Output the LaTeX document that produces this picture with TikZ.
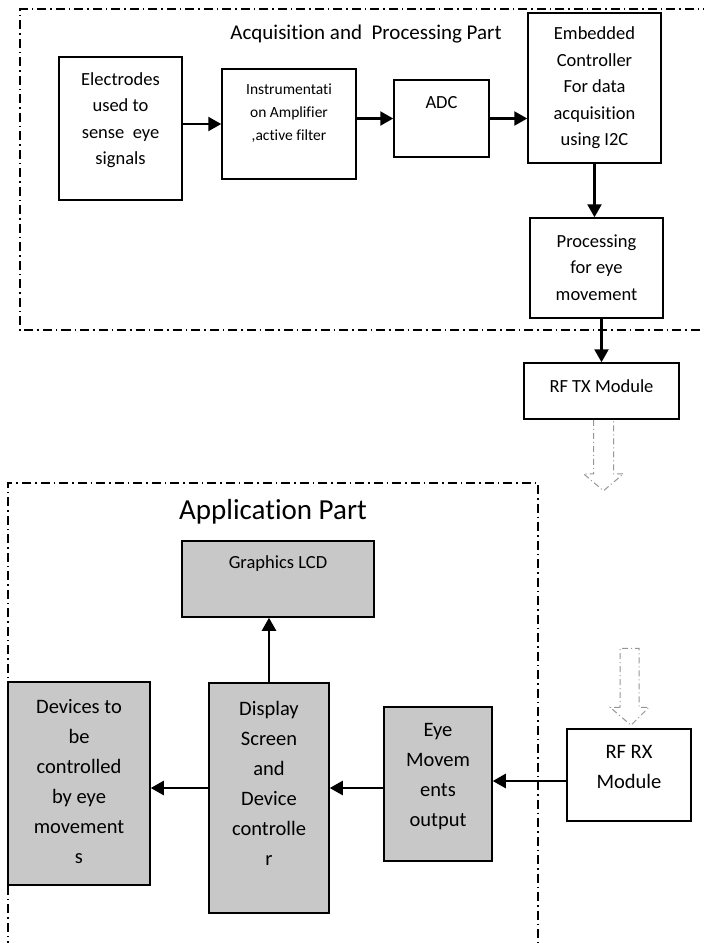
\documentclass[tikz,border=0pt]{standalone}
\usepackage{fontspec}
\setmainfont{Carlito}[Ligatures=NoCommon]
\usetikzlibrary{positioning, calc, arrows.meta}
\definecolor{boxgrey}{RGB}{200,200,200}
\definecolor{linkgrey}{RGB}{150,150,150}

\begin{document}
\begin{tikzpicture}[x=1pt, y=-1pt,
    blk/.style={draw, line width=1.5pt, inner sep=0pt},
    gblk/.style={blk, fill=boxgrey},
    txt/.style={align=center, inner sep=0pt, font=\fontsize{18.5}{26.5}\selectfont},
    btxt/.style={align=center, inner sep=0pt, font=\fontsize{20.5}{30}\selectfont},
    arr/.style={line width=2.4pt, -{Triangle[length=13pt, width=14pt]}},
    frame/.style={line width=1.2pt, dash pattern=on 9pt off 4pt on 1.5pt off 4pt},
    radio/.style={draw=linkgrey, line width=1pt, dash pattern=on 6pt off 3pt on 1pt off 3pt}]

        \useasboundingbox (0,0) rectangle (704,943);

        % Dash-dot frames
        \draw[frame] (712,9) -- (20,9) -- (20,330) -- (712,330);
        \draw[frame] (8,950) -- (8,483) -- (538,483) -- (538,950);

        % Titles
        \node[inner sep=0pt, font=\fontsize{21}{24}\selectfont] (acq-title) at (366,34) {Acquisition and\ \ Processing Part};
        \node[inner sep=0pt, font=\fontsize{29}{32}\selectfont] (app-title) at (273,512) {Application Part};

        % Acquisition and processing blocks
        \node[blk, minimum width=123pt, minimum height=143pt] (elec) at (120.5,128.5) {};
        \node[txt] (elec-t) at (120.5,120) {Electrodes\\used to\\sense\ \ eye\\signals};

        \node[blk, minimum width=134pt, minimum height=110pt] (instr) at (289,124) {};
        \node[txt, font=\fontsize{15.5}{23}\selectfont] (instr-t) at (289,113.5) {Instrumentati\\on Amplifier\\,active filter};

        \node[blk, minimum width=95pt, minimum height=77pt] (adc) at (441.5,118.5) {};
        \node[txt] (adc-t) at (441.5,103) {ADC};

        \node[blk, minimum width=133pt, minimum height=150pt] (emb) at (594.5,88) {};
        \node[txt] (emb-t) at (594.5,88) {Embedded\\Controller\\For data\\acquisition\\using I2C};

        \node[blk, minimum width=133pt, minimum height=100pt] (proc) at (596.5,268) {};
        \node[txt] (proc-t) at (596.5,267.5) {Processing\\for eye\\movement};

        \node[blk, minimum width=155pt, minimum height=56pt] (rftx) at (601.5,391) {};
        \node[txt] (rftx-t) at (601.5,386) {RF TX Module};

        % Application blocks
        \node[gblk, minimum width=192pt, minimum height=76pt] (lcd) at (278,579) {};
        \node[txt] (lcd-t) at (278,564) {Graphics LCD};

        \node[gblk, minimum width=120pt, minimum height=230pt] (disp) at (269,798) {};
        \node[btxt] (disp-t) at (269,783.5) {Display\\Screen\\and\\Device\\controlle\\r};

        \node[gblk, minimum width=142pt, minimum height=203pt] (dev) at (79,783.5) {};
        \node[btxt] (dev-t) at (79,782) {Devices to\\be\\controlled\\by eye\\movement\\s};

        \node[gblk, minimum width=108pt, minimum height=154pt] (eye) at (438,784) {};
        \node[btxt] (eye-t) at (438,777) {Eye\\Movem\\ents\\output};

        \node[blk, minimum width=124pt, minimum height=92pt] (rfrx) at (629,775) {};
        \node[btxt] (rfrx-t) at (629,767) {RF RX\\Module};

        % Connectors
        \draw[arr] (instr.west -| elec.east) -- (instr.west);
        \draw[arr] (adc.west -| instr.east) -- (adc.west);
        \draw[arr] (adc.east) -- (adc.east -| emb.west);
        \draw[arr] (emb.south) -- (emb.south |- proc.north);
        \draw[arr] (rftx.north |- proc.south) -- (rftx.north);

        \coordinate (rxrow) at (0,781);
        \coordinate (row) at (0,788);
        \draw[arr] (rfrx.west |- rxrow) -- (eye.east |- rxrow);
        \draw[arr] (eye.west |- row) -- (disp.east |- row);
        \draw[arr] (disp.west |- row) -- (dev.east |- row);
        \draw[arr] (disp.north) -- (disp.north |- lcd.south);

        % Radio link arrows
        \begin{scope}[shift={(rftx.south)}]
          \draw[radio] (-8,0) -- (-8,54) -- (-18,54) -- (2,71) -- (22,54) -- (12,54) -- (12,0);
        \end{scope}
        \begin{scope}[shift={(rfrx.north)}]
          \draw[radio] (-9,-21) -- (-19,-21) -- (2,-3) -- (20,-21) -- (10,-21) -- (10,-80) -- (-9,-80) -- cycle;
        \end{scope}

      \end{tikzpicture}
\end{document}
